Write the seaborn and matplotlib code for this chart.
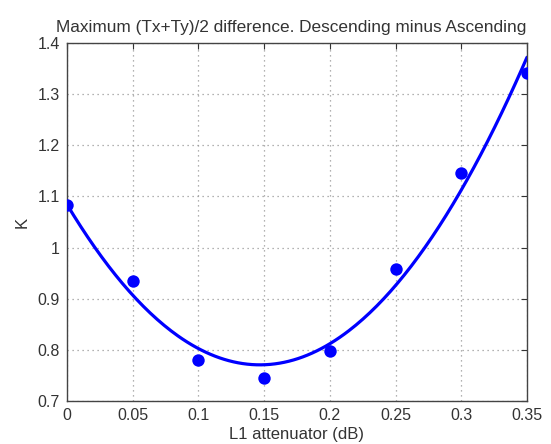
import numpy as np
import pandas as pd
import matplotlib
matplotlib.use("Agg")
import matplotlib.pyplot as plt
import seaborn as sns

# data
atten_db = [0.0, 0.05, 0.10, 0.15, 0.20, 0.25, 0.30, 0.35]
k_diff = [1.083, 0.934, 0.781, 0.745, 0.798, 0.959, 1.146, 1.341]
x_ticks = [0, 0.05, 0.1, 0.15, 0.2, 0.25, 0.3, 0.35]
x_tick_labels = ["0", "0.05", "0.1", "0.15", "0.2", "0.25", "0.3", "0.35"]
y_ticks = [0.7, 0.8, 0.9, 1.0, 1.1, 1.2, 1.3, 1.4]
y_tick_labels = ["0.7", "0.8", "0.9", "1", "1.1", "1.2", "1.3", "1.4"]

sns.set_style("white")
plt.rcParams['font.family'] = ['Liberation Sans', 'DejaVu Sans']

pts = pd.DataFrame({"x": atten_db, "y": k_diff})
# quadratic least-squares fit of the measured points
coef = np.polyfit(atten_db, k_diff, 2)
xf = np.linspace(min(atten_db), max(atten_db), 200)
fit = pd.DataFrame({"x": xf, "y": np.polyval(coef, xf)})

fig = plt.figure(figsize=(5.51, 4.44), dpi=100)
ax = fig.add_axes([0.1216, 0.0968, 0.8348, 0.8064])

sns.lineplot(data=fit, x="x", y="y", ax=ax, color="#0000ff", linewidth=2.3)
sns.scatterplot(data=pts, x="x", y="y", ax=ax, color="#0000ff", s=80,
                edgecolor="#0000ff", linewidth=0, zorder=3)

ax.set_xlim(0, 0.35)
ax.set_ylim(0.7, 1.4)
ax.set_xticks(x_ticks)
ax.set_xticklabels(x_tick_labels)
ax.set_yticks(y_ticks)
ax.set_yticklabels(y_tick_labels)
ax.grid(True, linestyle=(0, (1, 3)), color="#999999", linewidth=0.9)
ax.tick_params(direction="in", length=4, color="#333333", labelcolor="#333333",
               labelsize=11.5, top=True, right=True, pad=5)
for s in ax.spines.values():
    s.set_visible(True)
    s.set_color("#444444")
    s.set_linewidth(1.0)

ax.set_title("Maximum (Tx+Ty)/2 difference. Descending minus Ascending",
             fontsize=12.4, color="#333333", pad=8, x=0.487)
ax.set_xlabel("L1 attenuator (dB)", fontsize=12, color="#333333", labelpad=3)
ax.set_ylabel("K", fontsize=12, color="#333333", labelpad=6)

fig.savefig("out.png", dpi=100, facecolor="white")
